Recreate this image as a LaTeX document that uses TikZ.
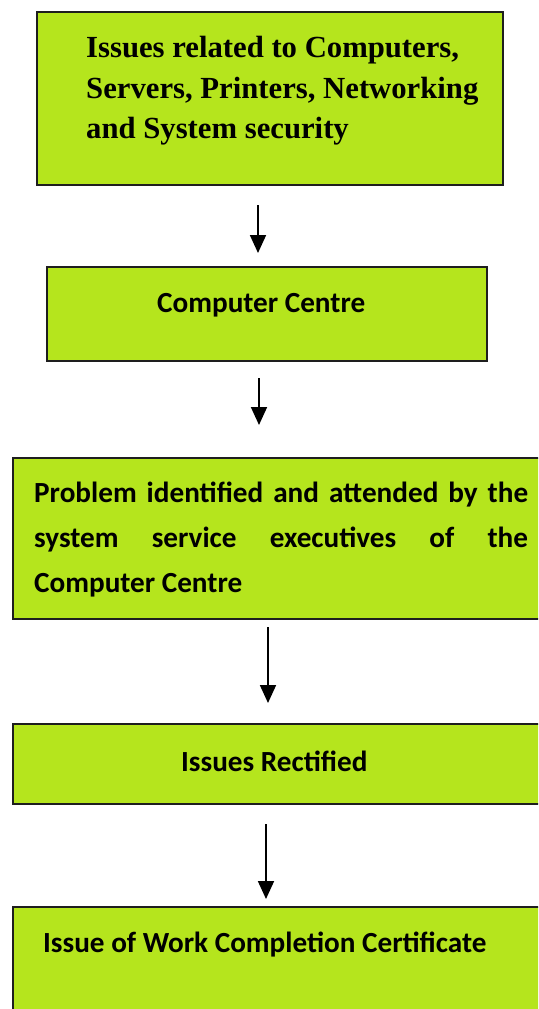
\documentclass[tikz,border=0pt]{standalone}
\usepackage{fontspec}
\setmainfont{Liberation Serif}
\newfontfamily\calfont{Carlito}
\usetikzlibrary{arrows.meta}
\definecolor{limefill}{RGB}{181,229,29}
\definecolor{edge}{RGB}{30,30,30}
\begin{document}
\begin{tikzpicture}[x=1pt,y=-1pt,
  box/.style={draw=edge, line width=1.8pt, fill=limefill, inner sep=0pt, anchor=north west},
  serif/.style={anchor=base west, inner sep=0pt, font=\bfseries\fontsize{30.7}{41}\selectfont},
  sans/.style={anchor=base west, inner sep=0pt, font=\calfont\bfseries\fontsize{29.2}{45}\selectfont},
  arr/.style={draw=black, line width=1.8pt, -{Triangle[length=18pt,width=16pt]}}]
\useasboundingbox (0,0) rectangle (538,1009);
\clip (0,0) rectangle (538,1009);
% boxes
\node[box, minimum width=466pt, minimum height=173pt] (b1) at (36,11) {};
\node[box, minimum width=440pt, minimum height=94pt] (b2) at (46,266) {};
\node[box, minimum width=560pt, minimum height=161pt] (b3) at (12,457) {};
\node[box, minimum width=560pt, minimum height=80pt] (b4) at (12,723) {};
\node[box, minimum width=560pt, minimum height=140pt] (b5) at (12,906) {};
% texts
\node[serif] (t1a) at (86,57) {Issues related to Computers,};
\node[serif] (t1b) at (86,98) {Servers, Printers, Networking};
\node[serif] (t1c) at (86,138) {and System security};
\node[sans] (t2) at (157,312) {Computer Centre};
\node[sans] (t3a) at (34,502) {\makebox[494pt][s]{Problem identified and attended by the}};
\node[sans] (t3b) at (34,547) {\makebox[494pt][s]{system service executives of the}};
\node[sans] (t3c) at (34,592) {Computer Centre};
\node[sans] (t4) at (181,771) {Issues Rectified};
\node[sans] (t5) at (43,952) {Issue of Work Completion Certificate};
% arrows
\coordinate (a1s) at (258,205); \coordinate (a1e) at (258,253);
\coordinate (a2s) at (259,378); \coordinate (a2e) at (259,425);
\coordinate (a3s) at (268,627); \coordinate (a3e) at (268,703);
\coordinate (a4s) at (266,824); \coordinate (a4e) at (266,899);
\draw[arr] (a1s) -- (a1e);
\draw[arr] (a2s) -- (a2e);
\draw[arr] (a3s) -- (a3e);
\draw[arr] (a4s) -- (a4e);
\end{tikzpicture}
\end{document}
